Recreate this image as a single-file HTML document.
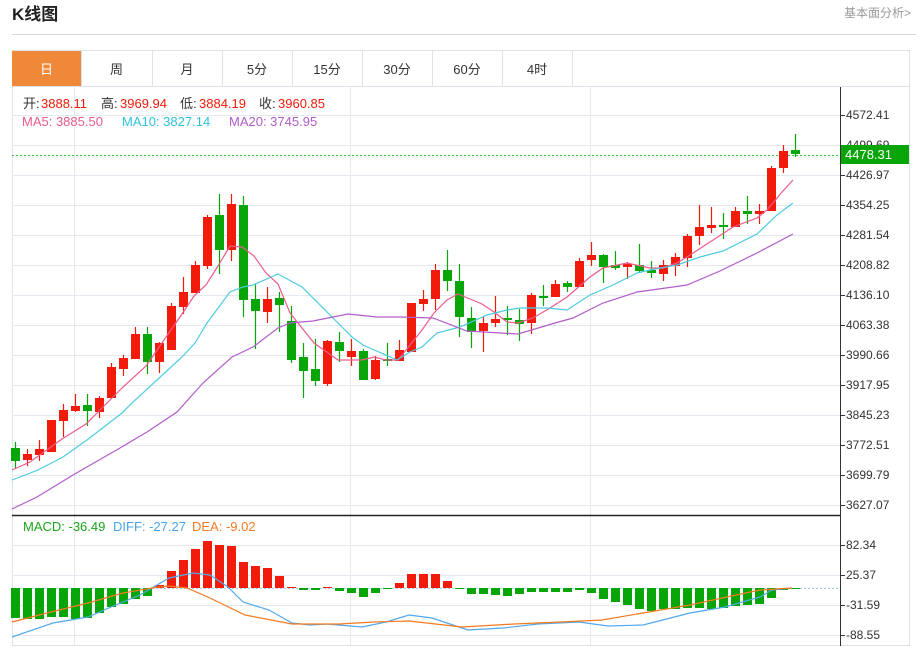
<!DOCTYPE html>
<html><head><meta charset="utf-8">
<style>
body{margin:0;background:#fff;width:916px;height:647px;overflow:hidden;font-family:"Liberation Sans","Noto Sans CJK SC",sans-serif;}
</style></head><body>
<svg id="s" width="916" height="647" xmlns="http://www.w3.org/2000/svg" style="position:absolute;left:0;top:0">
<text x="12" y="20" font-size="17" font-weight="bold" fill="#222" font-family="Liberation Sans,Noto Sans CJK SC,sans-serif">K线图</text>
<text x="844" y="17" font-size="12" fill="#999" font-family="Liberation Sans,Noto Sans CJK SC,sans-serif">基本面分析&gt;</text>
<line x1="12" y1="34.5" x2="916" y2="34.5" stroke="#d8d8d8"/>
<rect x="12.5" y="50.5" width="897" height="595" fill="none" stroke="#dde3ea"/>
<rect x="12" y="51" width="69" height="35" fill="#f0883a"/>
<line x1="12" y1="86.5" x2="910" y2="86.5" stroke="#dde3ea"/>
<g id="g"></g>
</svg>
<script>
var g=document.getElementById('g'),h='';
function L(x1,y1,x2,y2,c,w,d){h+='<line x1="'+x1+'" y1="'+y1+'" x2="'+x2+'" y2="'+y2+'" stroke="'+c+'" stroke-width="'+(w||1)+'"'+(d?' stroke-dasharray="'+d+'"':'')+'/>';}
function T(x,y,t,c,s,a){h+='<text x="'+x+'" y="'+y+'" font-size="'+(s||12)+'" fill="'+c+'"'+(a?' text-anchor="'+a+'"':'')+' font-family="Liberation Sans,Noto Sans CJK SC,sans-serif">'+t+'</text>';}
var tabs=['日','周','月','5分','15分','30分','60分','4时'],seps=[81,152,222,292,362,432,502,572];
for(var i=0;i<8;i++){var x0=i?seps[i-1]:12;T((x0+seps[i])/2,74,tabs[i],i?'#333':'#fff',13,'middle');L(seps[i]+.5,51,seps[i]+.5,86,'#dde3ea');}
for(var k=0;k<14;k++){var y=115+30*k+.5;L(12,y,840,y,'#e3e9ef');}
[545,575,605,635].forEach(function(y){L(12,y+.5,840,y+.5,'#e3e9ef');});
[74,350,590].forEach(function(x){L(x+.5,87,x+.5,645,'#e3e9ef');});
L(840.5,87,840.5,646,'#333');
L(12,515.5,840,515.5,'#222',1.5);
var labs=['4572.41','4499.69','4426.97','4354.25','4281.54','4208.82','4136.10','4063.38','3990.66','3917.95','3845.23','3772.51','3699.79','3627.07'];
labs.forEach(function(t,k){var y=115+30*k;L(840,y+.5,845,y+.5,'#333');T(846,y+4,t,'#333',12);});
['82.34','25.37','-31.59','-88.55'].forEach(function(t,k){var y=545+30*k;L(840,y+.5,845,y+.5,'#333');T(846,y+4,t,'#333',12);});
var c=[[448,461,442,468,0],[454,460,449,466,1],[449,455,440,461,1],[420,452,420,452,1],[410,421,404,437,1],[406,411,394,412,1],[405,411,394,426,0],[398,412,396,418,1],[367,398,363,398,1],[358,369,355,376,1],[334,359,327,359,1],[334,362,327,374,0],[343,362,342,373,1],[306,350,303,350,1],[292,307,277,314,1],[265,293,261,293,1],[217,266,215,269,1],[215,250,194,274,0],[204,250,194,261,1],[205,300,196,317,0],[299,311,284,349,0],[299,312,287,323,1],[298,305,292,332,0],[321,360,306,363,0],[357,371,343,398,0],[369,381,339,386,0],[341,384,340,386,1],[342,351,332,362,0],[351,357,339,366,1],[351,380,349,380,0],[360,379,356,380,1],[359,361,343,366,0],[350,361,340,361,1],[303,352,303,352,1],[299,304,290,311,1],[270,299,264,310,1],[270,281,250,291,0],[281,317,264,337,0],[318,332,307,348,0],[323,331,317,352,1],[319,323,296,327,1],[318,320,306,335,0],[320,324,309,341,0],[295,323,293,334,1],[296,298,285,306,0],[284,297,280,297,1],[283,287,281,292,0],[261,287,258,287,1],[255,260,242,266,1],[255,267,254,283,0],[265,268,251,270,0],[264,267,262,279,1],[265,271,244,272,0],[270,273,261,278,0],[265,274,260,281,1],[257,266,253,276,1],[236,258,234,267,1],[227,236,205,245,1],[225,228,207,233,1],[225,227,213,239,0],[211,227,207,227,1],[211,214,196,224,0],[211,214,204,224,1],[168,211,166,211,1],[151,168,145,173,1],[150,154,134,157,0]];
var R='#f21a0a',G='#08a508';
L(12,155.5,840,155.5,'#3cc23c',1,'2,2');
c.forEach(function(d,i){var x=15+12*i,col=d[4]?R:G;L(x+.5,d[2],x+.5,d[3],col,1.2);h+='<rect x="'+(x-4)+'" y="'+d[0]+'" width="9" height="'+Math.max(d[1]-d[0],2)+'" fill="'+col+'"/>';});
function P(pts,col){h+='<polyline fill="none" stroke="'+col+'" stroke-width="1.2" points="'+pts+'"/>';}
P('12,470 30,462 62,439 86,424 122,388 146,366 182,314 194,296 206,285 218,266 230,246 242,247 254,256 266,273 278,284 290,313 314,343 338,360 362,360 374,357 386,360 398,360 410,345 422,330 434,313 447,300 458,294 482,304 494,312 507,322 518,323 533,318 550,308 567,297 590,277 603,268 627,263 650,268 663,268 677,263 690,255 710,242 733,227 757,218 767,210 782,192 793,180','#ec5b8c');
P('12,480 38,470 63,457 87,440 122,413 133,402 157,380 182,357 195,343 207,323 230,292 243,287 253,285 278,274 302,287 338,323 352,337 363,345 397,360 410,352 422,347 437,333 460,327 487,315 507,310 520,308 547,308 567,310 590,295 613,285 637,273 650,270 677,265 700,257 723,251 757,234 777,215 793,203','#4ccbe2');
P('12,509 37,497 73,475 120,448 147,432 177,412 203,383 232,357 253,347 278,328 290,323 313,321 348,314 377,317 400,317 433,318 467,331 518,334 555,323 573,318 603,303 637,292 673,287 687,285 720,271 757,253 793,234','#b25ccb');
h+='<rect x="841" y="145" width="68" height="19" fill="#08a508"/>';T(845,159,'4478.31','#fff',13);
var m=[618,619,619,617,617,619,618,613,607,604,599,596,585,571,560,549,541,545,546,562,566,568,576,587,590,590,587,591,593,597,593,589,583,574,574,574,581,589,594,594,595,596,594,592,592,592,592,590,593,599,602,605,609,611,609,609,608,608,609,608,606,605,604,598,590,589];
L(12,588.5,838,588.5,'#9fd3f0',1,'2,2');
m.forEach(function(v,i){var x=15+12*i,up=v<588,col=up?R:G;var y=up?v:588,hh=Math.max(Math.abs(v-588),1);h+='<rect x="'+(x-4)+'" y="'+y+'" width="9" height="'+hh+'" fill="'+col+'"/>';});
P('12,637 53,623 88,617 111,607 140,595 169,578 193,573 210,575 228,587 243,602 269,610 292,623 310,625 327,624 362,627 386,622 409,615 432,618 468,630 503,628 538,624 579,622 608,626 643,625 690,613 725,607 760,597 772,590 792,588','#52a8ec');
P('12,622 47,613 88,603 123,593 158,587 169,586 187,588 210,598 245,615 292,624 339,624 374,622 409,621 462,627 514,624 561,622 602,620 643,613 690,605 736,595 760,590 792,588','#f47a20');
[['开:',23],['高:',101],['低:',180],['收:',259]].forEach(function(p){T(p[1],108,p[0],'#333',13);});
[['3888.11',41],['3969.94',120],['3884.19',199],['3960.85',278]].forEach(function(p){T(p[1],108,p[0],'#f21a0a',13);});
T(22,126,'MA5: 3885.50','#ec5b8c',13);T(122,126,'MA10: 3827.14','#2fc2dc',13);T(229,126,'MA20: 3745.95','#b25ccb',13);
T(23,531,'MACD: -36.49','#1aa51a',13);T(113,531,'DIFF: -27.27','#4aa3e8',13);T(192,531,'DEA: -9.02','#f47a20',13);
g.innerHTML=h;
</script>
</body></html>
